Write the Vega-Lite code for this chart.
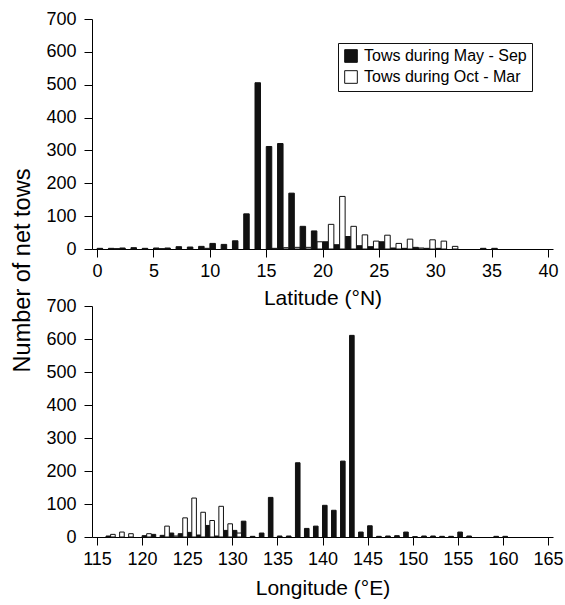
{
  "$schema": "https://vega.github.io/schema/vega-lite/v6.json",
  "background": "white",
  "padding": {"left": 10, "top": 10, "right": 0, "bottom": 4},
  "bounds": "flush",
  "spacing": 57,
  "config": {
    "font": "Liberation Sans",
    "view": {"stroke": null},
    "axis": {
      "grid": false,
      "domainColor": "black",
      "tickColor": "black",
      "labelColor": "black",
      "titleColor": "black",
      "labelFont": "Liberation Sans",
      "titleFont": "Liberation Sans",
      "labelFontSize": 18,
      "titleFontSize": 21,
      "titleFontWeight": "normal",
      "tickSize": 8,
      "domainWidth": 1,
      "tickWidth": 1
    },
    "axisX": {"labelPadding": 5, "titlePadding": 7},
    "axisY": {"labelPadding": 8, "titlePadding": 11},
    "legend": {
      "labelFont": "Liberation Sans",
      "labelFontSize": 16,
      "labelColor": "black",
      "labelLimit": 400
    }
  },
  "datasets": {
    "lat": [
      {"bin": 0, "season": "Tows during May - Sep", "n": 2},
      {"bin": 1, "season": "Tows during May - Sep", "n": 2},
      {"bin": 2, "season": "Tows during May - Sep", "n": 3},
      {"bin": 3, "season": "Tows during May - Sep", "n": 4},
      {"bin": 4, "season": "Tows during May - Sep", "n": 2},
      {"bin": 5, "season": "Tows during May - Sep", "n": 3},
      {"bin": 6, "season": "Tows during May - Sep", "n": 3},
      {"bin": 7, "season": "Tows during May - Sep", "n": 7},
      {"bin": 8, "season": "Tows during May - Sep", "n": 6},
      {"bin": 9, "season": "Tows during May - Sep", "n": 8},
      {"bin": 10, "season": "Tows during May - Sep", "n": 17},
      {"bin": 11, "season": "Tows during May - Sep", "n": 14},
      {"bin": 12, "season": "Tows during May - Sep", "n": 25},
      {"bin": 13, "season": "Tows during May - Sep", "n": 107},
      {"bin": 14, "season": "Tows during May - Sep", "n": 506},
      {"bin": 15, "season": "Tows during May - Sep", "n": 312},
      {"bin": 16, "season": "Tows during May - Sep", "n": 321},
      {"bin": 17, "season": "Tows during May - Sep", "n": 170},
      {"bin": 18, "season": "Tows during May - Sep", "n": 69},
      {"bin": 19, "season": "Tows during May - Sep", "n": 55},
      {"bin": 20, "season": "Tows during May - Sep", "n": 22},
      {"bin": 21, "season": "Tows during May - Sep", "n": 13},
      {"bin": 22, "season": "Tows during May - Sep", "n": 38},
      {"bin": 23, "season": "Tows during May - Sep", "n": 10},
      {"bin": 24, "season": "Tows during May - Sep", "n": 7},
      {"bin": 25, "season": "Tows during May - Sep", "n": 22},
      {"bin": 26, "season": "Tows during May - Sep", "n": 3},
      {"bin": 27, "season": "Tows during May - Sep", "n": 2},
      {"bin": 28, "season": "Tows during May - Sep", "n": 5},
      {"bin": 29, "season": "Tows during May - Sep", "n": 2},
      {"bin": 30, "season": "Tows during May - Sep", "n": 2},
      {"bin": 34, "season": "Tows during May - Sep", "n": 2},
      {"bin": 35, "season": "Tows during May - Sep", "n": 2},
      {"bin": 1, "season": "Tows during Oct - Mar", "n": 1},
      {"bin": 5, "season": "Tows during Oct - Mar", "n": 1},
      {"bin": 9, "season": "Tows during Oct - Mar", "n": 2},
      {"bin": 15, "season": "Tows during Oct - Mar", "n": 2},
      {"bin": 16, "season": "Tows during Oct - Mar", "n": 4},
      {"bin": 17, "season": "Tows during Oct - Mar", "n": 5},
      {"bin": 18, "season": "Tows during Oct - Mar", "n": 5},
      {"bin": 19, "season": "Tows during Oct - Mar", "n": 22},
      {"bin": 20, "season": "Tows during Oct - Mar", "n": 75},
      {"bin": 21, "season": "Tows during Oct - Mar", "n": 160},
      {"bin": 22, "season": "Tows during Oct - Mar", "n": 69},
      {"bin": 23, "season": "Tows during Oct - Mar", "n": 43},
      {"bin": 24, "season": "Tows during Oct - Mar", "n": 24},
      {"bin": 25, "season": "Tows during Oct - Mar", "n": 42},
      {"bin": 26, "season": "Tows during Oct - Mar", "n": 17},
      {"bin": 27, "season": "Tows during Oct - Mar", "n": 30},
      {"bin": 28, "season": "Tows during Oct - Mar", "n": 3},
      {"bin": 29, "season": "Tows during Oct - Mar", "n": 28},
      {"bin": 30, "season": "Tows during Oct - Mar", "n": 24},
      {"bin": 31, "season": "Tows during Oct - Mar", "n": 8}
    ],
    "lon": [
      {"bin": 116, "season": "Tows during May - Sep", "n": 3},
      {"bin": 120, "season": "Tows during May - Sep", "n": 4},
      {"bin": 121, "season": "Tows during May - Sep", "n": 8},
      {"bin": 122, "season": "Tows during May - Sep", "n": 5},
      {"bin": 123, "season": "Tows during May - Sep", "n": 12},
      {"bin": 124, "season": "Tows during May - Sep", "n": 10},
      {"bin": 125, "season": "Tows during May - Sep", "n": 14},
      {"bin": 126, "season": "Tows during May - Sep", "n": 6},
      {"bin": 127, "season": "Tows during May - Sep", "n": 35},
      {"bin": 128, "season": "Tows during May - Sep", "n": 3},
      {"bin": 129, "season": "Tows during May - Sep", "n": 20},
      {"bin": 130, "season": "Tows during May - Sep", "n": 20},
      {"bin": 131, "season": "Tows during May - Sep", "n": 48},
      {"bin": 132, "season": "Tows during May - Sep", "n": 2},
      {"bin": 133, "season": "Tows during May - Sep", "n": 12},
      {"bin": 134, "season": "Tows during May - Sep", "n": 120},
      {"bin": 135, "season": "Tows during May - Sep", "n": 3},
      {"bin": 136, "season": "Tows during May - Sep", "n": 3},
      {"bin": 137, "season": "Tows during May - Sep", "n": 225},
      {"bin": 138, "season": "Tows during May - Sep", "n": 26},
      {"bin": 139, "season": "Tows during May - Sep", "n": 33},
      {"bin": 140, "season": "Tows during May - Sep", "n": 96},
      {"bin": 141, "season": "Tows during May - Sep", "n": 81},
      {"bin": 142, "season": "Tows during May - Sep", "n": 230},
      {"bin": 143, "season": "Tows during May - Sep", "n": 611},
      {"bin": 144, "season": "Tows during May - Sep", "n": 15},
      {"bin": 145, "season": "Tows during May - Sep", "n": 34},
      {"bin": 146, "season": "Tows during May - Sep", "n": 2},
      {"bin": 147, "season": "Tows during May - Sep", "n": 3},
      {"bin": 148, "season": "Tows during May - Sep", "n": 4},
      {"bin": 149, "season": "Tows during May - Sep", "n": 15},
      {"bin": 150, "season": "Tows during May - Sep", "n": 1},
      {"bin": 151, "season": "Tows during May - Sep", "n": 3},
      {"bin": 152, "season": "Tows during May - Sep", "n": 3},
      {"bin": 153, "season": "Tows during May - Sep", "n": 2},
      {"bin": 154, "season": "Tows during May - Sep", "n": 2},
      {"bin": 155, "season": "Tows during May - Sep", "n": 15},
      {"bin": 156, "season": "Tows during May - Sep", "n": 3},
      {"bin": 159, "season": "Tows during May - Sep", "n": 2},
      {"bin": 160, "season": "Tows during May - Sep", "n": 2},
      {"bin": 116, "season": "Tows during Oct - Mar", "n": 8},
      {"bin": 117, "season": "Tows during Oct - Mar", "n": 15},
      {"bin": 118, "season": "Tows during Oct - Mar", "n": 10},
      {"bin": 120, "season": "Tows during Oct - Mar", "n": 10},
      {"bin": 122, "season": "Tows during Oct - Mar", "n": 33},
      {"bin": 123, "season": "Tows during Oct - Mar", "n": 3},
      {"bin": 124, "season": "Tows during Oct - Mar", "n": 58},
      {"bin": 125, "season": "Tows during Oct - Mar", "n": 118},
      {"bin": 126, "season": "Tows during Oct - Mar", "n": 75},
      {"bin": 127, "season": "Tows during Oct - Mar", "n": 50},
      {"bin": 128, "season": "Tows during Oct - Mar", "n": 93},
      {"bin": 129, "season": "Tows during Oct - Mar", "n": 40},
      {"bin": 130, "season": "Tows during Oct - Mar", "n": 12}
    ]
  },
  "vconcat": [
    {
      "width": 461,
      "height": 230,
      "data": {"name": "lat"},
      "encoding": {
        "x": {
          "field": "bin",
          "type": "quantitative",
          "scale": {"domain": [0, 40], "nice": false},
          "axis": {"values": [0, 5, 10, 15, 20, 25, 30, 35, 40], "title": "Latitude (°N)"}
        },
        "y": {
          "field": "n",
          "type": "quantitative",
          "scale": {"domain": [0, 700], "nice": false},
          "axis": {"values": [0, 100, 200, 300, 400, 500, 600, 700], "title": "Number of net tows", "titleY": 251, "titleFontSize": 23.5}
        },
        "color": {
          "field": "season",
          "type": "nominal",
          "scale": {"domain": ["Tows during May - Sep", "Tows during Oct - Mar"], "range": ["#111111", "#ffffff"]},
          "legend": {
            "title": null,
            "orient": "none",
            "legendX": 246,
            "legendY": 24,
            "symbolType": "square",
            "symbolSize": 160,
            "symbolStrokeColor": "#111111",
            "symbolStrokeWidth": 1,
            "symbolOpacity": 1,
            "strokeColor": "#111111",
            "fillColor": "white",
            "padding": 5,
            "rowPadding": 3,
            "labelOffset": 5
          }
        }
      },
      "layer": [
        {
          "transform": [{"filter": "datum.season == 'Tows during May - Sep'"}],
          "mark": {"type": "bar", "width": 5.5, "xOffset": 2.9, "stroke": "#111111", "strokeWidth": 1, "opacity": 1}
        },
        {
          "transform": [{"filter": "datum.season == 'Tows during Oct - Mar'"}],
          "mark": {"type": "bar", "width": 5.5, "xOffset": 8.6, "stroke": "#111111", "strokeWidth": 1, "opacity": 1}
        }
      ]
    },
    {
      "width": 461,
      "height": 231,
      "data": {"name": "lon"},
      "encoding": {
        "x": {
          "field": "bin",
          "type": "quantitative",
          "scale": {"domain": [115, 165], "nice": false, "zero": false},
          "axis": {"values": [115, 120, 125, 130, 135, 140, 145, 150, 155, 160, 165], "title": "Longitude (°E)", "titlePadding": 9}
        },
        "y": {
          "field": "n",
          "type": "quantitative",
          "scale": {"domain": [0, 700], "nice": false},
          "axis": {"values": [0, 100, 200, 300, 400, 500, 600, 700], "title": null}
        }
      },
      "layer": [
        {
          "transform": [{"filter": "datum.season == 'Tows during May - Sep'"}],
          "mark": {"type": "bar", "width": 4.6, "xOffset": 2.3, "fill": "#111111", "stroke": "#111111", "strokeWidth": 1, "opacity": 1}
        },
        {
          "transform": [{"filter": "datum.season == 'Tows during Oct - Mar'"}],
          "mark": {"type": "bar", "width": 4.6, "xOffset": 6.9, "fill": "#ffffff", "stroke": "#111111", "strokeWidth": 1, "opacity": 1}
        }
      ]
    }
  ]
}
